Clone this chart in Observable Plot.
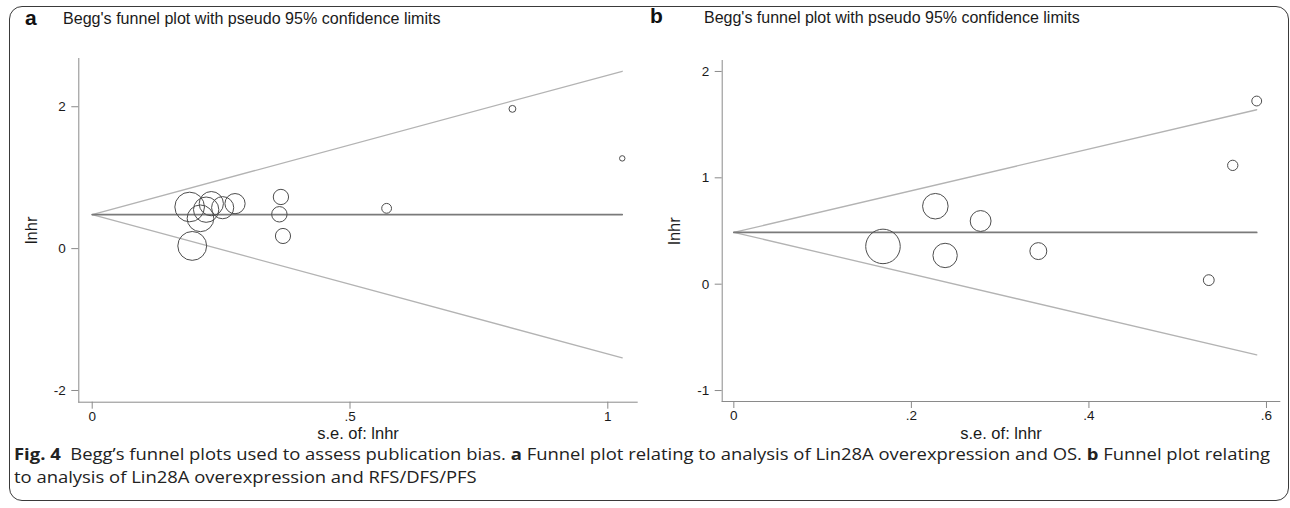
<!DOCTYPE html>
<html><head><meta charset="utf-8">
<script src="https://cdn.jsdelivr.net/npm/d3@7"></script>
<script src="https://cdn.jsdelivr.net/npm/@observablehq/plot@0.6"></script>
<style>
html,body{margin:0;padding:0;background:#fff;}
body{width:1290px;height:508px;position:relative;overflow:hidden;font-family:"Liberation Sans",Arial,sans-serif;}
#frame{position:absolute;left:9px;top:6px;width:1280px;height:495px;border:1px solid #3a3a3a;border-radius:13px;box-sizing:border-box;}
.panel{position:absolute;top:0;}
#pa{left:0;} #pb{left:645px;}
.plabel{position:absolute;font:bold 21px "Liberation Sans",Arial,sans-serif;color:#111;line-height:1;}
.ptitle{position:absolute;font:15.5px "Liberation Sans",Arial,sans-serif;color:#1a1a1a;white-space:nowrap;line-height:1;}
.cap{position:absolute;left:14px;font-family:"Open Sans","Noto Sans",sans-serif;font-size:16px;color:#222;white-space:nowrap;line-height:1;transform-origin:0 0;}
svg text{fill:#1a1a1a;}
[aria-label="x-axis label"] text,[aria-label="y-axis label"] text{font-size:16.5px;}
</style></head>
<body>
<div id="frame"></div>
<div id="pa" class="panel"></div>
<div id="pb" class="panel"></div>
<div class="plabel" style="left:25px;top:7px;">a</div>
<div class="ptitle" id="ta" style="left:63px;top:10px;">Begg's funnel plot with pseudo 95% confidence limits</div>
<div class="plabel" style="left:650px;top:5px;">b</div>
<div class="ptitle" id="tb" style="left:704px;top:10px;">Begg's funnel plot with pseudo 95% confidence limits</div>
<div class="cap" id="cap1" style="top:446px;"><b>Fig. 4</b>&nbsp; Begg’s funnel plots used to assess publication bias. <b>a</b> Funnel plot relating to analysis of Lin28A overexpression and OS. <b>b</b> Funnel plot relating</div>
<div class="cap" id="cap2" style="top:469px;">to analysis of Lin28A overexpression and RFS/DFS/PFS</div>
<script>
// Panel a: Lin28A overexpression and OS
const seA    = [0.189, 0.210, 0.221, 0.231, 0.253, 0.277, 0.194, 0.366, 0.363, 0.370, 0.571, 1.028, 0.815];
const lnhrA  = [0.587, 0.427, 0.549, 0.634, 0.577, 0.634, 0.038, 0.728, 0.484, 0.178, 0.568, 1.272, 1.970];
const funnelSEA = [0, 1.028];
const upperA  = [0.48, 2.50];
const lowerA  = [0.48, -1.54];
const pooledA = [0.48, 0.48];
const xTicksA = [0, 0.5, 1];
const xTickLabelsA = ["0", ".5", "1"];
const yTicksA = [-2, 0, 2];
const yTickLabelsA = ["-2", "0", "2"];

// Panel b: Lin28A overexpression and RFS/DFS/PFS
const seB    = [0.168, 0.227, 0.278, 0.238, 0.343, 0.535, 0.589, 0.562];
const lnhrB  = [0.355, 0.733, 0.594, 0.270, 0.311, 0.038, 1.722, 1.117];
const funnelSEB = [0, 0.589];
const upperB  = [0.487, 1.64];
const lowerB  = [0.487, -0.665];
const pooledB = [0.487, 0.487];
const xTicksB = [0, 0.2, 0.4, 0.6];
const xTickLabelsB = ["0", ".2", ".4", ".6"];
const yTicksB = [-1, 0, 1, 2];
const yTickLabelsB = ["-1", "0", "1", "2"];

const xLabel = "s.e. of: lnhr";
const yLabel = "lnhr";

function panel(o){
  const pts = o.se.map((s,i)=>({se:s, lnhr:o.lnhr[i], w:1/(s*s)}));
  const svg = Plot.plot({
    width:645, height:445,
    marginLeft:o.ml, marginRight:o.mr, marginTop:o.mt, marginBottom:o.mb,
    style:{fontFamily:'"Liberation Sans",Arial,sans-serif', fontSize:"13.5px", color:"#8a8a8a", background:"transparent", overflow:"visible"},
    x:{domain:o.xdom, ticks:o.xt, tickFormat:d=>o.xl[o.xt.indexOf(d)], tickSize:7, tickPadding:2, line:true,
       label:xLabel, labelAnchor:"center", labelOffset:37},
    y:{domain:o.ydom, ticks:o.yt, tickFormat:d=>o.yl[o.yt.indexOf(d)], tickSize:7, tickPadding:6, line:true,
       label:yLabel, labelAnchor:"center", labelOffset:54},
    r:{type:"sqrt", domain:[0,1], range:[0,o.k]},
    marks:[
      Plot.line(o.fse, {x:d=>d, y:(d,i)=>o.up[i], stroke:"#b3b3b3", strokeWidth:1.3}),
      Plot.line(o.fse, {x:d=>d, y:(d,i)=>o.lo[i], stroke:"#b3b3b3", strokeWidth:1.3}),
      Plot.line(o.fse, {x:d=>d, y:(d,i)=>o.pool[i], stroke:"#7a7a7a", strokeWidth:1.7}),
      Plot.dot(pts, {x:"se", y:"lnhr", r:"w", stroke:"#4d4d4d", strokeWidth:1, fill:"none"})
    ]
  });
  // remove the automatic label arrows
  svg.querySelectorAll('[aria-label="x-axis label"] text').forEach(t=>t.textContent=xLabel);
  svg.querySelectorAll('[aria-label="y-axis label"] text').forEach(t=>t.textContent=yLabel);
  return svg;
}

document.getElementById("pa").append(panel({
  se:seA, lnhr:lnhrA, fse:funnelSEA, up:upperA, lo:lowerA, pool:pooledA,
  xt:xTicksA, xl:xTickLabelsA, yt:yTicksA, yl:yTickLabelsA,
  xdom:[-0.026, 1.057], ydom:[-2.165, 2.68], ml:78.3, mr:8.3, mt:58, mb:43.3, k:2.8
}));
document.getElementById("pb").append(panel({
  se:seB, lnhr:lnhrB, fse:funnelSEB, up:upperB, lo:lowerB, pool:pooledB,
  xt:xTicksB, xl:xTickLabelsB, yt:yTicksB, yl:yTickLabelsB,
  xdom:[-0.0131, 0.615], ydom:[-1.103, 2.103], ml:76.7, mr:10.7, mt:60, mb:44, k:2.9
}));

// fit text widths
function fit(el, w){
  const fs = parseFloat(getComputedStyle(el).fontSize);
  const cur = el.getBoundingClientRect().width;
  el.style.fontSize = (fs*w/cur) + "px";
}
fit(document.getElementById("ta"), 378);
fit(document.getElementById("tb"), 376);
const c1 = document.getElementById("cap1"), c2 = document.getElementById("cap2");
const s = 1256 / c1.getBoundingClientRect().width;
c1.style.transform = "scaleX(" + s + ")";
c2.style.transform = "scaleX(" + s + ")";
</script>
</body></html>
